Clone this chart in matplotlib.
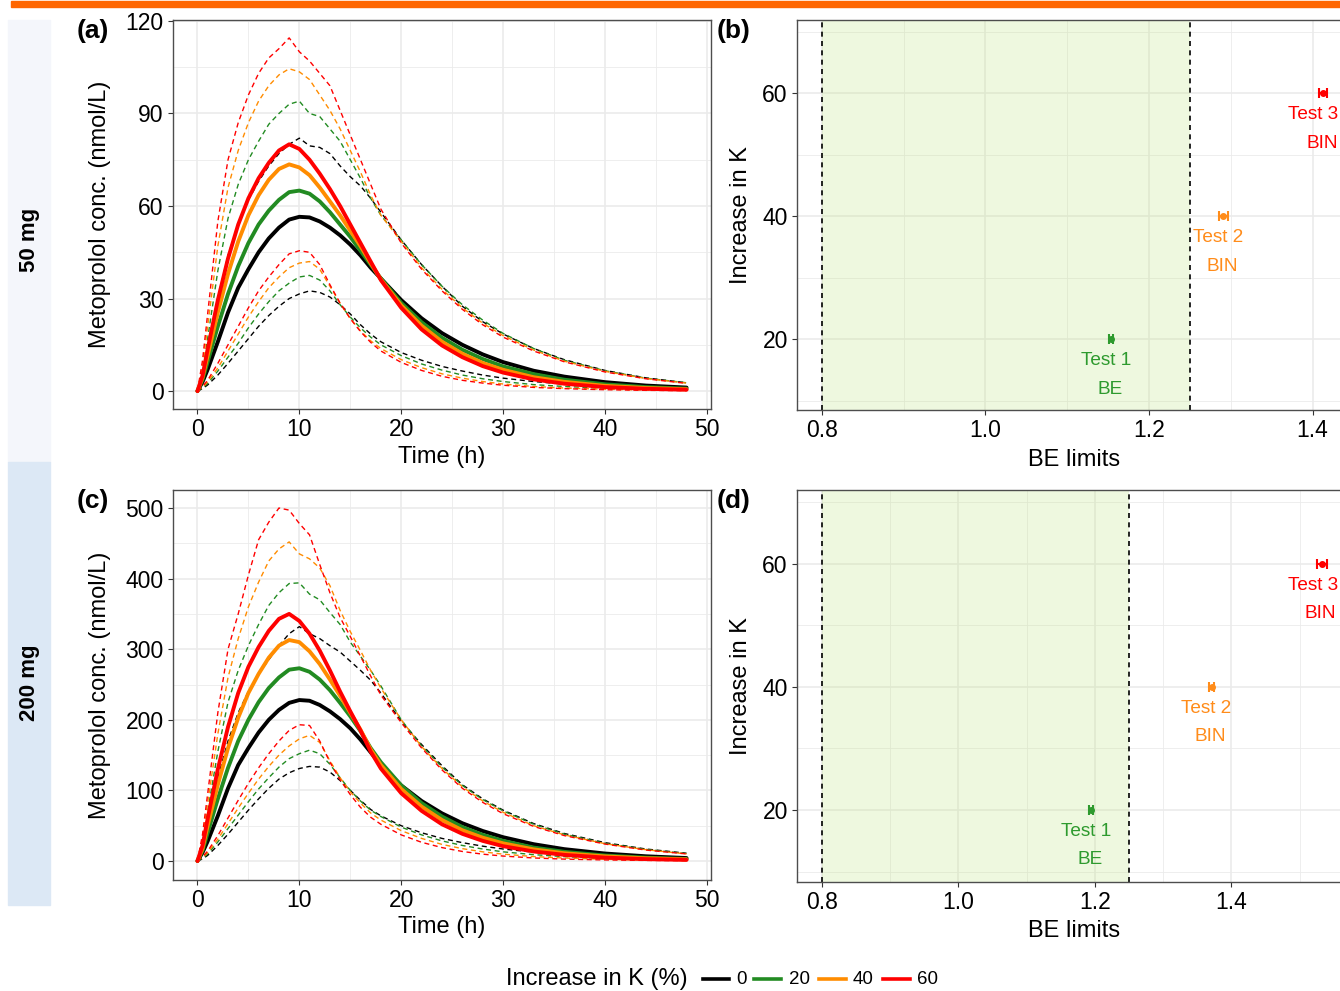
import matplotlib
matplotlib.use("Agg")
import matplotlib.pyplot as plt
from matplotlib.patches import Rectangle
from matplotlib.lines import Line2D
from matplotlib.ticker import MultipleLocator

plt.rcParams['font.family'] = ['Liberation Sans', 'DejaVu Sans']

# ---------------- data ----------------
time_h = [0, 0.5, 1, 2, 3, 4, 5, 6, 7, 8, 9, 10, 11, 12, 13, 14, 15, 16, 17, 18,
          20, 22, 24, 26, 28, 30, 33, 36, 40, 44, 48]
k_levels = ["0", "20", "40", "60"]
k_colors = ["#000000", "#228B22", "#FF8C00", "#FF0000"]

# 50 mg: median
med50_k0 = [0, 3, 7, 16, 25.5, 33.5, 39.5, 45, 49.5, 53, 55.6, 56.5, 56.3, 55, 53, 50.5, 47.5, 44, 40, 36.5,
            29.5, 23.6, 18.8, 15, 11.9, 9.4, 6.6, 4.7, 2.9, 1.8, 1.15]
med50_k20 = [0, 3.8, 9.5, 21, 31.5, 40.5, 48, 54, 58.5, 62, 64.5, 65, 64, 61.5, 58, 54, 50, 45.5, 41, 36.5,
             28.6, 22.3, 17.3, 13.4, 10.4, 8, 5.5, 3.7, 2.2, 1.3, 0.8]
med50_k40 = [0, 4.5, 11.5, 25.5, 38, 48.5, 57, 63.5, 68.5, 72, 73.5, 72.5, 70, 66, 61.5, 57, 52, 47, 41.5, 36.2,
             27.8, 21.2, 16, 12.1, 9.1, 6.9, 4.5, 3, 1.7, 1, 0.6]
med50_k60 = [0, 5, 13.6, 29.5, 43, 54, 62.5, 69, 74, 78, 80, 78.5, 75, 70.5, 65.5, 60, 54, 48, 42, 36,
             27, 20, 14.8, 11, 8.1, 6, 3.8, 2.4, 1.3, 0.75, 0.45]
# 50 mg: upper percentile
up50_k0 = [0, 5, 13, 30, 44, 54, 62, 68, 73, 77, 80, 82, 79.5, 79, 77, 73, 69.5, 66.5, 62.5, 58,
           49, 41, 34, 27.5, 22.5, 18.5, 13.8, 10.2, 6.7, 4.3, 2.7]
up50_k20 = [0, 6.5, 17, 39, 56, 67, 75, 81, 86.5, 90, 93, 94, 90, 89, 85, 81, 75, 69, 62.5, 57,
            49, 41, 34, 28, 23, 18.7, 13.8, 10, 6.6, 4.2, 2.7]
up50_k40 = [0, 8, 21, 47, 66, 78, 87, 94, 99, 102.5, 104.5, 103.5, 101, 96, 91, 85, 78, 71, 63.5, 57,
            48.5, 40, 33, 27, 22, 18, 13.3, 9.7, 6.4, 4.1, 2.6]
up50_k60 = [0, 10, 25, 55, 75, 87, 96, 103, 108, 111, 114.5, 110, 107, 103, 99, 91, 83, 75, 67, 59,
            48, 39.5, 32.5, 26.5, 21.5, 17.5, 13, 9.5, 6.2, 4, 2.5]
# 50 mg: lower percentile
lo50_k0 = [0, 0.8, 2, 5.2, 9, 13, 17, 21, 24.5, 27.5, 30, 31.5, 32.5, 32, 30.5, 28, 25, 21.5, 18.5, 16,
           12.5, 10, 8, 6.5, 5.2, 4.2, 3.1, 2.3, 1.5, 1, 0.65]
lo50_k20 = [0, 1, 2.5, 6.5, 11, 15.5, 20.5, 25, 29, 32.5, 35, 37, 37.5, 36, 32.5, 28, 24, 20.5, 17.5, 15,
            11.5, 8.8, 6.8, 5.2, 4, 3.1, 2.1, 1.5, 0.9, 0.55, 0.35]
lo50_k40 = [0, 1.2, 3, 7.5, 13, 18.5, 24, 29, 33.5, 37, 40, 41.5, 42, 39.5, 34, 28.5, 23.5, 19.5, 16.3, 13.8,
            10.2, 7.6, 5.6, 4.2, 3.1, 2.3, 1.5, 1, 0.6, 0.35, 0.2]
lo50_k60 = [0, 1.5, 3.5, 9, 15, 21, 27, 32.5, 37, 41, 44.5, 45.5, 45, 41, 34.5, 28.5, 23.5, 19.3, 15.8, 13,
            9.3, 6.7, 4.8, 3.5, 2.6, 1.9, 1.2, 0.8, 0.45, 0.25, 0.15]

# 200 mg: median
med200_k0 = [0, 12, 28, 64, 103, 136, 160, 182, 200, 214, 224, 228, 227, 221, 212, 201, 188, 172, 154, 136,
             107, 85, 67.5, 53.5, 42.5, 33.7, 23.8, 16.8, 10.6, 6.7, 4.2]
med200_k20 = [0, 15, 40, 88, 132, 170, 200, 225, 245, 260, 271, 273, 268, 257, 242, 224, 205, 184, 160, 140,
              107, 82, 63, 48, 37, 28.5, 19, 13, 7.8, 4.7, 2.9]
med200_k40 = [0, 18, 50, 108, 160, 203, 238, 265, 288, 305, 313, 310, 297, 279, 257, 234, 210, 186, 158, 136,
              102, 77, 58, 43.5, 33, 25, 16.5, 11, 6.5, 3.8, 2.3]
med200_k60 = [0, 22, 60, 130, 190, 238, 275, 303, 326, 343, 350, 340, 322, 298, 270, 240, 212, 185, 155, 131,
              96, 71, 52, 38.5, 28.5, 21, 13.5, 8.7, 4.8, 2.7, 1.6]
# 200 mg: upper percentile
up200_k0 = [0, 20, 52, 118, 170, 210, 240, 265, 285, 305, 322, 332, 322, 315, 305, 296, 283, 270, 256, 238,
            198, 165, 135, 108, 88, 72, 53, 39, 26, 17, 11]
up200_k20 = [0, 28, 70, 155, 225, 270, 305, 335, 362, 380, 393, 394, 378, 370, 352, 335, 310, 290, 270, 248,
             200, 163, 133, 107, 87, 71, 52, 38, 25, 16.5, 10.5]
up200_k40 = [0, 32, 82, 180, 260, 315, 360, 395, 425, 442, 452, 435, 428, 415, 390, 355, 325, 298, 270, 245,
             200, 162, 131, 105, 85, 69, 50, 37, 24.5, 16, 10]
up200_k60 = [0, 38, 95, 210, 300, 350, 405, 455, 480, 500, 497, 478, 462, 420, 380, 345, 318, 290, 262, 235,
             196, 160, 129, 103, 83, 67, 49, 36, 24, 15.5, 10]
# 200 mg: lower percentile
lo200_k0 = [0, 3, 8, 22, 38, 55, 72, 88, 103, 116, 125, 131, 134, 133, 126, 114, 100, 86, 73, 64,
            50, 40, 32, 26, 21, 17, 12.5, 9.2, 6, 3.9, 2.6]
lo200_k20 = [0, 4, 10, 27, 46, 65, 84, 102, 118, 133, 145, 152, 157, 152, 137, 118, 100, 85, 72, 63,
             48, 37, 28.5, 22, 17, 13, 9, 6.2, 3.8, 2.3, 1.4]
lo200_k40 = [0, 5, 12, 31, 53, 75, 96, 116, 134, 150, 163, 173, 178, 168, 142, 118, 98, 82, 68, 58,
             43, 32, 23.5, 17.5, 13, 9.7, 6.3, 4.2, 2.4, 1.4, 0.85]
lo200_k60 = [0, 6, 14, 36, 61, 86, 110, 132, 152, 170, 185, 193, 192, 170, 140, 115, 94, 76, 62, 52,
             37, 26.5, 19, 13.5, 9.7, 7, 4.3, 2.7, 1.5, 0.85, 0.5]

# BE test results (ratio estimate and interval), y = increase in K (%)
be_y = [20, 40, 60]
be_names = ["Test 1", "Test 2", "Test 3"]
be_verdict = ["BE", "BIN", "BIN"]
be_colors = ["#2E9A2E", "#FF8C1A", "#FF0000"]
be50_est = [1.1532, 1.2911, 1.4129]
be50_lo = [1.1505, 1.2862, 1.4083]
be50_hi = [1.1560, 1.2965, 1.4174]
be200_est = [1.1939, 1.3707, 1.5321]
be200_lo = [1.1905, 1.3672, 1.5248]
be200_hi = [1.1972, 1.3742, 1.5395]
be_limits = [0.8, 1.25]

# ---------------- figure ----------------
W, H = 1340, 991
fig = plt.figure(figsize=(W / 100, H / 100), dpi=100)


def box(l, t, r, b):
    return [l / W, 1 - b / H, (r - l) / W, (b - t) / H]


def fxy(x, y):
    return x / W, 1 - y / H


GRID = "#EBEBEB"
BORDER = "#4D4D4D"
DASH = (0, (3.6, 2.6))


def style_axes(ax):
    ax.set_axisbelow(True)
    ax.grid(which="major", color=GRID, lw=1.2, zorder=0)
    ax.grid(which="minor", color=GRID, lw=0.6, zorder=0)
    for s in ax.spines.values():
        s.set_color(BORDER)
        s.set_linewidth(1.0)
    ax.tick_params(which="major", direction="out", length=3.6, width=0.8, color="#333333",
                   labelsize=16.5, pad=3, labelcolor="black")
    ax.tick_params(which="minor", length=0)


# top orange band
fig.patches.append(Rectangle(fxy(11, 7), (W - 11) / W, 6 / H, transform=fig.transFigure,
                             color="#FF6600", zorder=0))
# left strips
fig.patches.append(Rectangle(fxy(8, 462), 42 / W, 442 / H, transform=fig.transFigure,
                             color="#F4F6FB", zorder=0))
fig.patches.append(Rectangle(fxy(8, 905), 42 / W, 443 / H, transform=fig.transFigure,
                             color="#DCE8F5", zorder=0))
fig.text(*fxy(30, 240), "50 mg", rotation=90, ha="center", va="center", fontsize=16,
         fontweight="bold")
fig.text(*fxy(30, 683), "200 mg", rotation=90, ha="center", va="center", fontsize=16,
         fontweight="bold")


def conc_panel(rect, med, up, lo, ylim, ymajor, yminor):
    ax = fig.add_axes(rect)
    style_axes(ax)
    for i in range(4):
        ax.plot(time_h, up[i], color=k_colors[i], lw=1.0, ls=DASH, zorder=2)
        ax.plot(time_h, lo[i], color=k_colors[i], lw=1.0, ls=DASH, zorder=2)
    for i in range(4):
        ax.plot(time_h, med[i], color=k_colors[i], lw=2.8, zorder=3 + i,
                solid_joinstyle="round", solid_capstyle="round")
    ax.set_xlim(-2.4, 50.4)
    ax.set_ylim(*ylim)
    ax.xaxis.set_major_locator(MultipleLocator(10))
    ax.xaxis.set_minor_locator(MultipleLocator(5))
    ax.yaxis.set_major_locator(MultipleLocator(ymajor))
    ax.yaxis.set_minor_locator(MultipleLocator(yminor))
    return ax


ax_a = conc_panel(box(173, 20, 711, 409),
                  [med50_k0, med50_k20, med50_k40, med50_k60],
                  [up50_k0, up50_k20, up50_k40, up50_k60],
                  [lo50_k0, lo50_k20, lo50_k40, lo50_k60],
                  (-5.8, 120.3), 30, 15)
ax_c = conc_panel(box(173, 490, 711, 880),
                  [med200_k0, med200_k20, med200_k40, med200_k60],
                  [up200_k0, up200_k20, up200_k40, up200_k60],
                  [lo200_k0, lo200_k20, lo200_k40, lo200_k60],
                  (-26.9, 525.5), 100, 50)

test_texts = []


def be_panel(rect, est, lo, hi, xlim, ylim):
    ax = fig.add_axes(rect)
    style_axes(ax)
    ax.axvspan(be_limits[0], be_limits[1], color=(0.75, 0.90, 0.50), alpha=0.25, lw=0, zorder=1)
    for xv in be_limits:
        ax.axvline(xv, color="black", lw=1.2, ls=(0, (3, 2.6)), zorder=2)
    for i in range(3):
        ax.errorbar(est[i], be_y[i], xerr=[[est[i] - lo[i]], [hi[i] - est[i]]],
                    fmt="o", ms=4, color=be_colors[i], elinewidth=1.5, capsize=3.6,
                    capthick=1.5, zorder=4)
        t1 = ax.annotate(be_names[i], xy=(est[i], be_y[i]), xytext=(-3.6, -15.8),
                         textcoords="offset points", ha="center", va="center",
                         fontsize=13.7, color=be_colors[i], annotation_clip=False)
        ax.annotate(be_verdict[i], xy=(est[i], be_y[i]), xytext=(-0.7, -36.0),
                    textcoords="offset points", ha="center", va="center",
                    fontsize=13.7, color=be_colors[i], annotation_clip=False)
        test_texts.append(t1)
    ax.set_xlim(*xlim)
    ax.set_ylim(*ylim)
    ax.set_xticks([0.8, 1.0, 1.2, 1.4])
    ax.set_xticklabels(["0.8", "1.0", "1.2", "1.4"])
    ax.xaxis.set_minor_locator(MultipleLocator(0.1))
    ax.set_yticks(be_y)
    ax.yaxis.set_minor_locator(MultipleLocator(10))
    return ax


ax_b = be_panel(box(797, 20, 1351, 410), be50_est, be50_lo, be50_hi,
                (0.8 - 25 / 817.5, 0.8 + 529 / 817.5), (8.46, 71.87))
ax_d = be_panel(box(797, 490, 1351, 882), be200_est, be200_lo, be200_hi,
                (0.8 - 25 / 682.5, 0.8 + 529 / 682.5), (8.3, 72.0))

# axis titles
lab = dict(fontsize=17, ha="center", va="center")
fig.text(*fxy(100, 214), "Metoprolol conc. (nmol/L)", rotation=90, **lab)
fig.text(*fxy(100, 685), "Metoprolol conc. (nmol/L)", rotation=90, **lab)
fig.text(*fxy(442, 457), "Time (h)", **lab)
fig.text(*fxy(442, 927), "Time (h)", **lab)
fig.text(*fxy(741, 215), "Increase in K", rotation=90, **lab)
fig.text(*fxy(741, 686), "Increase in K", rotation=90, **lab)
fig.text(*fxy(1074, 460), "BE limits", **lab)
fig.text(*fxy(1074, 931), "BE limits", **lab)

# panel tags
tag = dict(fontsize=19, fontweight="bold", ha="left", va="center")
fig.text(*fxy(77, 31), "(a)", **tag)
fig.text(*fxy(717, 31), "(b)", **tag)
fig.text(*fxy(77, 501), "(c)", **tag)
fig.text(*fxy(717, 501), "(d)", **tag)

# legend
fig.text(*fxy(506, 979), "Increase in K (%)", fontsize=17, ha="left", va="center")
leg_x = [(703, 729, 736), (754, 781, 789), (819, 846, 853), (883, 910, 917)]
for (x0, x1, xt), col, lbl in zip(leg_x, k_colors, k_levels):
    fig.add_artist(Line2D([x0 / W, x1 / W], [1 - 979 / H] * 2, color=col, lw=2.6,
                          transform=fig.transFigure))
    fig.text(*fxy(xt, 979), lbl, fontsize=13.5, ha="left", va="center")

# keep the right-most labels inside the picture
fig.canvas.draw()
renderer = fig.canvas.get_renderer()
for t in test_texts:
    bb = t.get_window_extent(renderer)
    if bb.x1 > W - 2:
        ox, oy = t.xyann
        t.xyann = (ox - (bb.x1 - (W - 2)) * 72 / 100, oy)

fig.savefig("out.png", dpi=100)
